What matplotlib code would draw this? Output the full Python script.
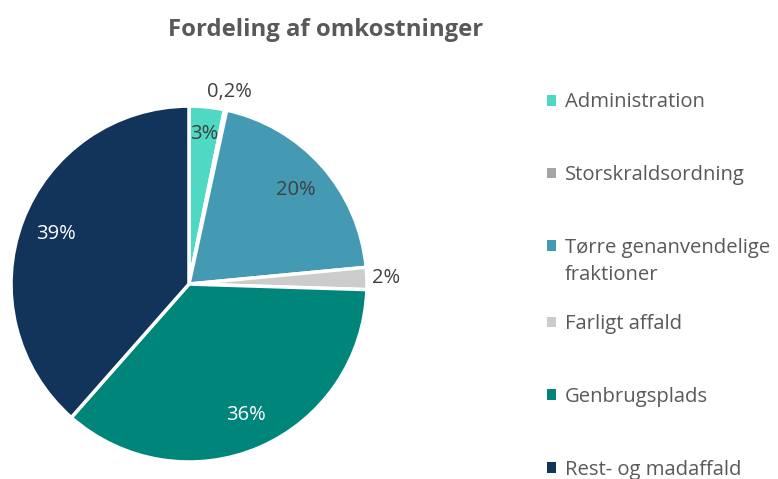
import numpy as np
import matplotlib.pyplot as plt
from matplotlib.patches import Patch

plt.rcParams["font.family"] = ["Open Sans", "DejaVu Sans"]

categories = [
    "Administration",
    "Storskraldsordning",
    "Tørre genanvendelige",
    "Farligt affald",
    "Genbrugsplads",
    "Rest- og madaffald",
]
category_wrap = "fraktioner"  # second line of the "Tørre genanvendelige" entry
shares = [3.2, 0.2, 20.1, 2.0, 36.0, 38.5]
pct_labels = ["3%", "0,2%", "20%", "2%", "36%", "39%"]
colors = ["#4fd8c3", "#a5a5a5", "#4499b3", "#cccccc", "#00857a", "#12345a"]
label_colors = ["#404040", "#404040", "#404040", "#404040", "white", "white"]
label_radius = [0.85, 1.10, 0.80, 1.11, 0.80, 0.80]

fig = plt.figure(figsize=(7.78, 4.79), dpi=100)
ax = fig.add_axes([0.0141, 0.0355, 0.4576, 0.743])

wedges, _ = ax.pie(
    shares,
    colors=colors,
    startangle=90,
    counterclock=False,
    radius=1.0,
    wedgeprops=dict(edgecolor="white", linewidth=2.5),
)
ax.set_xlim(-1, 1)
ax.set_ylim(-1, 1)
ax.set_aspect("equal")

# percentage labels placed at the middle angle of each wedge
for w, txt, col, r in zip(wedges, pct_labels, label_colors, label_radius):
    mid = np.deg2rad(0.5 * (w.theta1 + w.theta2))
    ax.text(r * np.cos(mid), r * np.sin(mid), txt, ha="center", va="center",
            fontsize=14.5, color=col)

fig.text(0.418, 0.937, "Fordeling af omkostninger", ha="center", va="center",
         fontsize=17.2, fontweight="bold", color="#595959")

handles = [Patch(facecolor=c, edgecolor="none") for c in colors]
leg_kw = dict(
    loc="upper left",
    frameon=False,
    fontsize=14.6,
    labelcolor="#595959",
    handlelength=0.45,
    handleheight=0.45,
    handletextpad=0.45,
    labelspacing=2.6,
)
# two legends so the wrapped entry keeps its marker on the first line
leg1 = fig.legend(handles[:3], categories[:3], bbox_to_anchor=(0.679, 0.845), **leg_kw)
leg2 = fig.legend(handles[3:], categories[3:], bbox_to_anchor=(0.679, 0.382), **leg_kw)

fig.canvas.draw()
ext = leg1.get_texts()[2].get_window_extent()
fig.text(ext.x0 / fig.bbox.width, (ext.y0 - 27) / fig.bbox.height, category_wrap,
         ha="left", va="bottom", fontsize=14.6, color="#595959")

fig.savefig("out.png", dpi=100)
